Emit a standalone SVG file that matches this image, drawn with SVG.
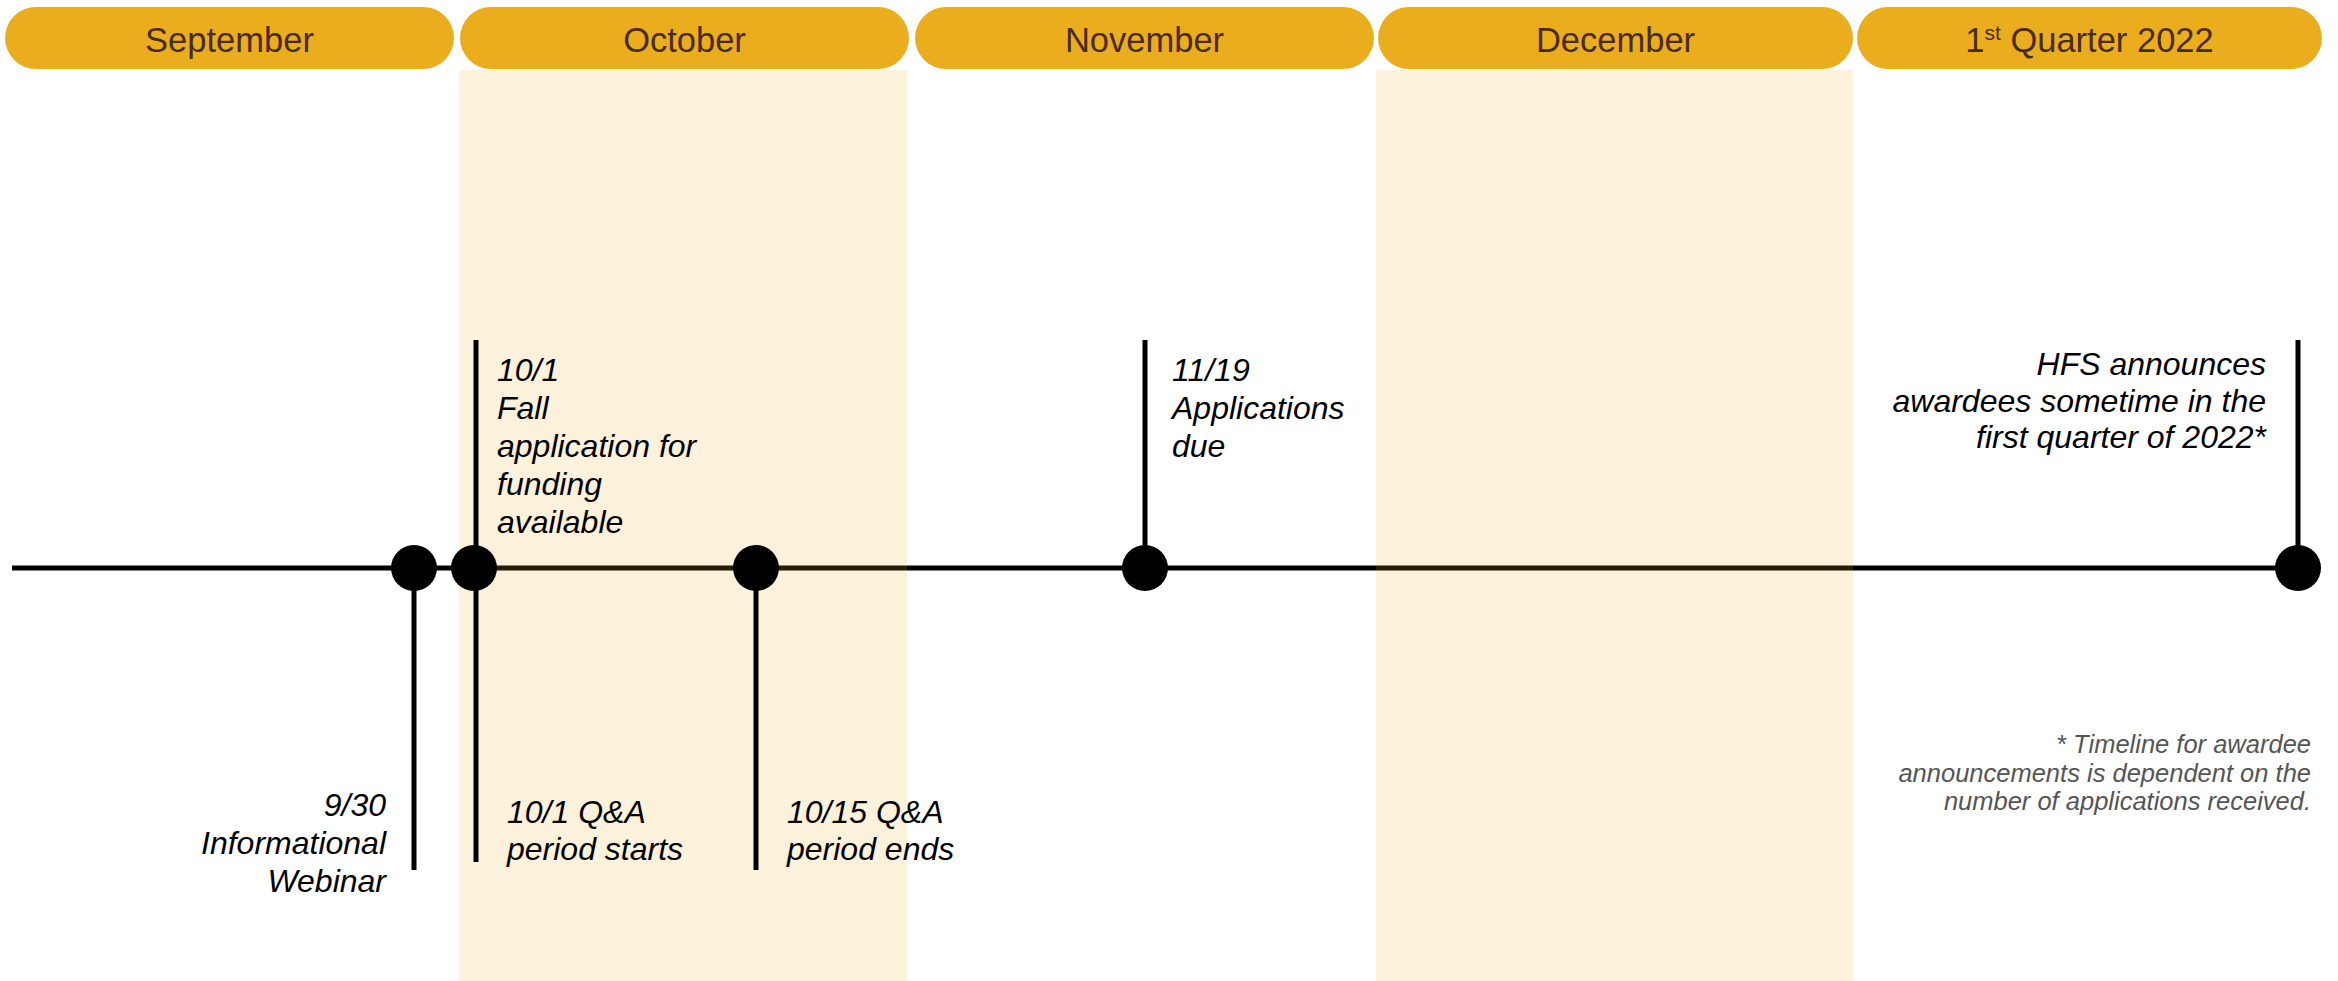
<svg xmlns="http://www.w3.org/2000/svg" width="2338" height="981" viewBox="0 0 2338 981">
<style>
.pill{fill:#EAAD1E}
.month{font-family:"Liberation Sans",Arial,sans-serif;font-size:34.5px;fill:#4B2B20;text-anchor:middle}
.shade{fill:#EAAD1E;fill-opacity:0.16}
.lbl{font-family:"Liberation Sans",Arial,sans-serif;font-size:32px;font-style:italic;fill:#000}
.end{text-anchor:end}
.stem{stroke:#000;stroke-width:5;fill:none}
.dot{fill:#000}
.note{font-family:"Liberation Sans",Arial,sans-serif;font-size:25.5px;font-style:italic;fill:#555;text-anchor:end}
</style>
<rect width="2338" height="981" fill="#fff"/>
<g id="timeline-axis">
<line x1="12" y1="568" x2="2298" y2="568" stroke="#000" stroke-width="5"/>
</g>
<g id="shading">
<rect class="shade" x="459" y="70" width="448" height="911"/>
<rect class="shade" x="1376" y="70" width="477" height="911"/>
</g>
<g id="month-september"><rect class="pill" x="5" y="7" width="449" height="62" rx="31"/><text class="month" x="229.5" y="51.5">September</text></g>
<g id="month-october"><rect class="pill" x="460" y="7" width="449" height="62" rx="31"/><text class="month" x="684.5" y="51.5">October</text></g>
<g id="month-november"><rect class="pill" x="915" y="7" width="459" height="62" rx="31"/><text class="month" x="1144.5" y="51.5">November</text></g>
<g id="month-december"><rect class="pill" x="1378" y="7" width="475" height="62" rx="31"/><text class="month" x="1615.5" y="51.5">December</text></g>
<g id="month-q1-2022"><rect class="pill" x="1857" y="7" width="465" height="62" rx="31"/><text class="month" x="2089.5" y="51.5">1<tspan font-size="21" dy="-12">st</tspan><tspan dy="12"> Quarter 2022</tspan></text></g>
<g id="connectors">
<line class="stem" x1="414" y1="568" x2="414" y2="870"/>
<line class="stem" x1="476" y1="340" x2="476" y2="862"/>
<line class="stem" x1="756" y1="568" x2="756" y2="870"/>
<line class="stem" x1="1145" y1="340" x2="1145" y2="568"/>
<line class="stem" x1="2298" y1="340" x2="2298" y2="568"/>
</g>
<g id="node-webinar">
<circle class="dot" cx="414" cy="568" r="23"/>
<text class="lbl end"><tspan x="386" y="816">9/30</tspan><tspan x="386" y="854">Informational</tspan><tspan x="386" y="892">Webinar</tspan></text>
</g>
<g id="node-application-available">
<circle class="dot" cx="474" cy="568" r="23"/>
<text class="lbl"><tspan x="497" y="381">10/1</tspan><tspan x="497" y="419">Fall</tspan><tspan x="497" y="457">application for</tspan><tspan x="497" y="495">funding</tspan><tspan x="497" y="533">available</tspan></text>
<text class="lbl"><tspan x="507" y="823">10/1 Q&amp;A</tspan><tspan x="507" y="860">period starts</tspan></text>
</g>
<g id="node-qa-ends">
<circle class="dot" cx="756" cy="568" r="23"/>
<text class="lbl"><tspan x="787" y="823">10/15 Q&amp;A</tspan><tspan x="787" y="860">period ends</tspan></text>
</g>
<g id="node-applications-due">
<circle class="dot" cx="1145" cy="568" r="23"/>
<text class="lbl"><tspan x="1172" y="381">11/19</tspan><tspan x="1172" y="419">Applications</tspan><tspan x="1172" y="457">due</tspan></text>
</g>
<g id="node-awardees">
<circle class="dot" cx="2298" cy="568" r="23"/>
<text class="lbl end"><tspan x="2266" y="375">HFS announces</tspan><tspan x="2266" y="412">awardees sometime in the</tspan><tspan x="2266" y="448">first quarter of 2022*</tspan></text>
</g>
<g id="footnote">
<text class="note"><tspan x="2311" y="753">* Timeline for awardee</tspan><tspan x="2311" y="781.5">announcements is dependent on the</tspan><tspan x="2311" y="810">number of applications received.</tspan></text>
</g>
</svg>
